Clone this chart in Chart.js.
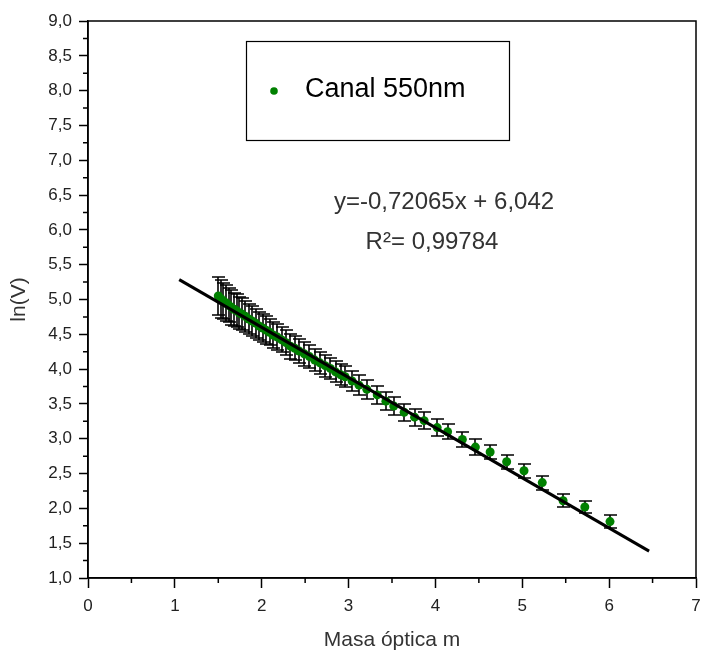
<!DOCTYPE html>
<html>
<head>
<meta charset="utf-8">
<script src="https://cdn.jsdelivr.net/npm/chart.js@4/dist/chart.umd.min.js"></script>
<style>
  html, body { margin: 0; padding: 0; background: #fff; }
  #wrap { width: 701px; height: 658px; }
</style>
</head>
<body>
<div id="wrap"><canvas id="lnv-graph" width="701" height="658"></canvas></div>
<script>
// air mass m and ln(V) for the 550 nm channel
const seriesName = "Canal 550nm"
const massX = [1.50, 1.53, 1.56, 1.59, 1.62, 1.65, 1.68, 1.71, 1.74, 1.77,
    1.81, 1.85, 1.89, 1.93, 1.97, 2.01, 2.05, 2.09, 2.13, 2.18,
    2.23, 2.28, 2.33, 2.38, 2.43, 2.49, 2.55, 2.61, 2.67, 2.73,
    2.79, 2.85, 2.91, 2.96, 3.04, 3.12, 3.21, 3.33, 3.43, 3.52,
    3.64, 3.76, 3.87, 4.02, 4.14, 4.31, 4.46, 4.63, 4.82, 5.02,
    5.23, 5.47, 5.72, 6.01]
const lnV = [5.05, 5.01, 4.98, 4.95, 4.92, 4.89, 4.86, 4.84, 4.81, 4.79,
    4.76, 4.72, 4.69, 4.66, 4.62, 4.59, 4.56, 4.53, 4.49, 4.46,
    4.42, 4.38, 4.33, 4.30, 4.26, 4.22, 4.18, 4.13, 4.09, 4.05,
    4.01, 3.96, 3.92, 3.89, 3.83, 3.77, 3.71, 3.63, 3.54, 3.47,
    3.38, 3.31, 3.26, 3.16, 3.10, 2.99, 2.88, 2.81, 2.67, 2.54,
    2.37, 2.11, 2.02, 1.81]
const lnVErr = [0.27, 0.27, 0.26, 0.26, 0.25, 0.25, 0.24, 0.24, 0.23, 0.23,
    0.22, 0.22, 0.21, 0.21, 0.20, 0.20, 0.20, 0.19, 0.19, 0.19,
    0.18, 0.18, 0.18, 0.17, 0.17, 0.17, 0.16, 0.16, 0.16, 0.16,
    0.15, 0.15, 0.15, 0.15, 0.14, 0.14, 0.14, 0.13, 0.13, 0.13,
    0.12, 0.12, 0.12, 0.12, 0.11, 0.11, 0.11, 0.10, 0.10, 0.10,
    0.10, 0.09, 0.09, 0.09]

// linear fit y = a*x + b
const fitSlope = -0.72065
const fitIntercept = 6.042
const fitR2 = 0.99784
const fitRange = [1.05, 6.46]

const yTicks = [1, 9]
const xTicks = [0, 7]

const green = "#008000"
const comma = (v, d) => v.toFixed(d).replace(".", ",")

Chart.defaults.font.family = "Arial, 'Liberation Sans', sans-serif"
Chart.defaults.color = "#222"

// error bars, drawn under the points
const errorBars = {
    id: "errorBars",
    beforeDatasetsDraw(chart) {
        const {ctx, scales: {x, y}} = chart
        ctx.save()
        ctx.strokeStyle = "#000"
        ctx.lineWidth = 1.6
        massX.forEach((m, i) => {
            const px = Math.round(x.getPixelForValue(m))
            const top = Math.round(y.getPixelForValue(lnV[i] + lnVErr[i]))
            const bot = Math.round(y.getPixelForValue(lnV[i] - lnVErr[i]))
            ctx.beginPath()
            ctx.moveTo(px, top); ctx.lineTo(px, bot)
            ctx.moveTo(px - 6, top); ctx.lineTo(px + 7, top)
            ctx.moveTo(px - 6, bot); ctx.lineTo(px + 7, bot)
            ctx.stroke()
        })
        ctx.restore()
    }
}

// frame, minor ticks, legend box and fit text
const decorations = {
    id: "decorations",
    afterDraw(chart) {
        const {ctx, chartArea: a, scales: {x, y}} = chart
        ctx.save()
        ctx.strokeStyle = "#000"
        ctx.lineWidth = 1.5
        ctx.strokeRect(a.left, a.top, a.right - a.left, a.bottom - a.top)

        ctx.beginPath()
        x.ticks.forEach(t => {
            if (t.value % 1 !== 0) {
                const px = x.getPixelForValue(t.value)
                ctx.moveTo(px, a.bottom); ctx.lineTo(px, a.bottom + 5)
            }
        })
        y.ticks.forEach(t => {
            if (t.value % 0.5 !== 0) {
                const py = y.getPixelForValue(t.value)
                ctx.moveTo(a.left, py); ctx.lineTo(a.left - 5, py)
            }
        })
        ctx.stroke()

        // legend
        const lx = a.left + 158, ly = a.top + 20
        ctx.lineWidth = 1.2
        ctx.strokeRect(lx + 0.5, ly + 0.5, 263, 99)
        ctx.fillStyle = green
        ctx.beginPath()
        ctx.arc(lx + 28, ly + 50, 3.8, 0, Math.PI * 2)
        ctx.fill()
        ctx.fillStyle = "#000"
        ctx.font = "27px Arial, 'Liberation Sans', sans-serif"
        ctx.textBaseline = "middle"
        ctx.textAlign = "left"
        ctx.fillText(seriesName, lx + 59, ly + 49)

        // fit equation
        ctx.fillStyle = "#333"
        ctx.font = "24px Arial, 'Liberation Sans', sans-serif"
        ctx.textAlign = "center"
        const eq = "y=" + comma(fitSlope, 5) + "x + " + comma(fitIntercept, 3)
        ctx.fillText(eq, 444, 202)
        ctx.fillText("R\u00b2= " + comma(fitR2, 5), 432, 242)
        ctx.restore()
    }
}

function buildGraph(canvas) {
    const fitLine = fitRange.map(m => ({x: m, y: fitSlope * m + fitIntercept}))
    const points = massX.map((m, i) => ({x: m, y: lnV[i]}))

    const data = {
        datasets: [{
            type: "line",
            label: "fit",
            data: fitLine,
            borderColor: "#000",
            borderWidth: 3,
            pointRadius: 0,
            order: 0
        }, {
            label: seriesName,
            data: points,
            backgroundColor: green,
            borderColor: green,
            borderWidth: 0,
            pointRadius: 4.5,
            order: 1
        }]
    }

    const config = {
        type: "scatter",
        data: data,
        options: {
            responsive: false,
            animation: false,
            layout: {padding: {left: 0, right: 0, top: 21, bottom: 0}},
            plugins: {legend: {display: false}, tooltip: {enabled: false}},
            scales: {
                x: {
                    type: "linear",
                    min: xTicks[0],
                    max: xTicks[1],
                    afterFit: s => { s.height = 80; s.paddingRight = 5 },
                    border: {display: true, color: "#000", width: 1.5},
                    grid: {
                        drawOnChartArea: false,
                        tickLength: 10,
                        tickWidth: 1.5,
                        tickColor: c => c.tick && c.tick.value % 1 === 0 ? "#000" : "rgba(0,0,0,0)"
                    },
                    ticks: {
                        stepSize: 0.5,
                        autoSkip: false,
                        maxRotation: 0,
                        padding: 8,
                        font: {size: 17},
                        callback: v => v % 1 === 0 ? String(v) : ""
                    },
                    title: {
                        display: true,
                        text: "Masa óptica m",
                        color: "#333",
                        font: {size: 21},
                        padding: {top: 4, bottom: 5}
                    }
                },
                y: {
                    min: yTicks[0],
                    max: yTicks[1],
                    afterFit: s => { s.width = 88 },
                    border: {display: true, color: "#000", width: 1.5},
                    grid: {
                        drawOnChartArea: false,
                        tickLength: 9,
                        tickWidth: 1.5,
                        tickColor: c => c.tick && c.tick.value % 0.5 === 0 ? "#000" : "rgba(0,0,0,0)"
                    },
                    ticks: {
                        stepSize: 0.25,
                        maxTicksLimit: 100,
                        autoSkip: false,
                        padding: 7,
                        font: {size: 17},
                        callback: v => v % 0.5 === 0 ? comma(v, 1) : ""
                    },
                    title: {
                        display: true,
                        text: "ln(V)",
                        color: "#333",
                        font: {size: 21},
                        padding: {top: 7, bottom: 0}
                    }
                }
            }
        },
        plugins: [errorBars, decorations]
    }

    return new Chart(canvas, config)
}

buildGraph(document.getElementById("lnv-graph"))
</script>
</body>
</html>
